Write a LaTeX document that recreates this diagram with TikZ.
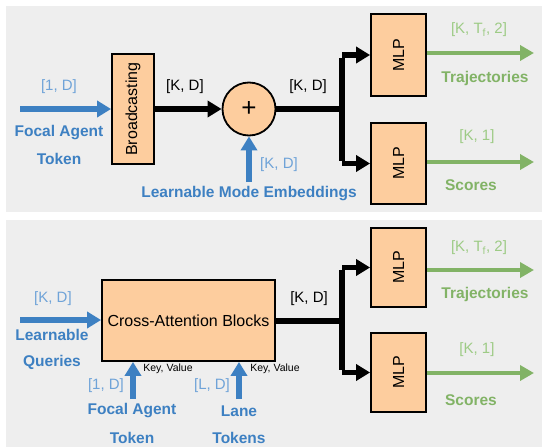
\documentclass[tikz,border=0pt]{standalone}
\usepackage{fontspec}
\setmainfont{Liberation Sans}
\usetikzlibrary{arrows.meta,positioning}
\definecolor{bg}{HTML}{EEEEEE}
\definecolor{peach}{HTML}{FDCD9E}
\definecolor{bluA}{HTML}{3D80C2}
\definecolor{bluL}{HTML}{6FA3D8}
\definecolor{grnA}{HTML}{82B366}
\definecolor{grnL}{HTML}{9DCB85}
\tikzset{
  boxy/.style={draw=black,line width=1.8pt,fill=peach,inner sep=0pt},
  blarrow/.style={draw=bluA,line width=5.5pt,-{Triangle[length=14pt,width=16pt]}},
  blkarrow/.style={draw=black,line width=5.5pt,-{Triangle[length=14pt,width=16pt]}},
  blkline/.style={draw=black,line width=5.5pt},
  grarrow/.style={draw=grnA,line width=4.5pt,-{Triangle[length=14pt,width=15pt]}},
  dimb/.style={text=bluL,font=\fontsize{15}{17}\selectfont},
  dimk/.style={text=black,font=\fontsize{15}{17}\selectfont},
  dimg/.style={text=grnL,font=\fontsize{15}{17}\selectfont},
  labb/.style={text=bluA,font=\bfseries\fontsize{15.5}{17}\selectfont},
  labg/.style={text=grnA,font=\bfseries\fontsize{15.5}{17}\selectfont},
  kv/.style={text=black,font=\fontsize{10.5}{12}\selectfont},
  boxtxt/.style={text=black,font=\fontsize{16}{18}\selectfont},
}
\begin{document}
\begin{tikzpicture}[x=1pt,y=-1pt]
\useasboundingbox (0,0) rectangle (543,447);
\fill[white] (0,0) rectangle (543,447);
\fill[bg] (6,6) rectangle (542,212);
\fill[bg] (6,220) rectangle (542,447);
% ---------- top panel ----------
\node[boxy,minimum width=42pt,minimum height=110pt] (bc) at (133,109) {};
\node[rotate=90,boxtxt] (bct) at (bc.center) {Broadcasting};
\coordinate (fin) at (20,109);
\draw[blarrow] (fin) -- (bc.west);
\node[dimb] (d1) at (59,87) {[1, D]};
\node[labb] (fa1) at (59,133) {Focal Agent};
\node[labb] (tk1) at (59,159) {Token};
\node[circle,draw=black,line width=1.8pt,fill=peach,minimum size=53pt,inner sep=0pt,font=\fontsize{26}{26}\selectfont] (plus) at (249,109) {+};
\draw[blkarrow] (bc.east) -- (plus.west);
\node[dimk] (d2) at (185,87) {[K, D]};
\coordinate (lme) at (249,182);
\draw[blarrow] (lme) -- (plus.south);
\node[dimb] (d3) at (279,165) {[K, D]};
\node[labb] (lm) at (249,194) {Learnable Mode Embeddings};
\coordinate (j1) at (342,109);
\node[boxy,minimum width=55pt,minimum height=82pt] (m1) at (398.5,55) {};
\node[rotate=90,boxtxt] (m1t) at (m1.center) {MLP};
\node[boxy,minimum width=55pt,minimum height=81pt] (m2) at (398.5,163.5) {};
\node[rotate=90,boxtxt] (m2t) at (m2.center) {MLP};
\draw[blkline] (plus.east) -- (j1);
\node[dimk] (d4) at (308,87) {[K, D]};
\draw[blkline] ([yshift=-2.75pt]j1 |- m1.west) -- ([yshift=2.75pt]j1 |- m2.west);
\draw[blkarrow] (j1 |- m1.west) -- (m1.west);
\draw[blkarrow] (j1 |- m2.west) -- (m2.west);
\coordinate (o1) at (534,53);
\coordinate (o2) at (534,162);
\draw[grarrow] (m1.east |- o1) -- (o1);
\draw[grarrow] (m2.east |- o2) -- (o2);
\node[dimg] (g1) at (479,30) {[K, T\textsubscript{f}, 2]};
\node[labg] (tr1) at (485,78) {Trajectories};
\node[dimg] (g2) at (477,137) {[K, 1]};
\node[labg] (sc1) at (471,185) {Scores};
% ---------- bottom panel ----------
\node[boxy,minimum width=173pt,minimum height=81pt] (ca) at (188.5,320.5) {};
\node[boxtxt] (cat) at (ca.center) {Cross-Attention Blocks};
\coordinate (qin) at (20,320);
\draw[blarrow] (qin) -- (qin -| ca.west);
\node[dimb] (d5) at (53,299) {[K, D]};
\node[labb] (lq) at (52,335) {Learnable};
\node[labb] (qq) at (52,362) {Queries};
\coordinate (fa2) at (133,399);
\coordinate (ln2) at (239,399);
\draw[blarrow] (fa2) -- (fa2 |- ca.south);
\draw[blarrow] (ln2) -- (ln2 |- ca.south);
\node[kv] (kv1) at (168,369) {Key, Value};
\node[kv] (kv2) at (275,369) {Key, Value};
\node[dimb] (d6) at (106,386) {[1, D]};
\node[dimb] (d7) at (212,386) {[L, D]};
\node[labb] (fat) at (132,411) {Focal Agent};
\node[labb] (tkt) at (132,438) {Token};
\node[labb] (lnt) at (239,411) {Lane};
\node[labb] (tkt2) at (239,438) {Tokens};
\coordinate (j2) at (342,321);
\node[boxy,minimum width=55pt,minimum height=79pt] (m3) at (398.5,267.5) {};
\node[rotate=90,boxtxt] (m3t) at (m3.center) {MLP};
\node[boxy,minimum width=55pt,minimum height=79pt] (m4) at (398.5,372.5) {};
\node[rotate=90,boxtxt] (m4t) at (m4.center) {MLP};
\draw[blkline] (ca.east |- j2) -- (j2);
\node[dimk] (d8) at (309,299) {[K, D]};
\draw[blkline] ([yshift=-2.75pt]j2 |- m3.west) -- ([yshift=2.75pt]j2 |- m4.west);
\draw[blkarrow] (j2 |- m3.west) -- (m3.west);
\draw[blkarrow] (j2 |- m4.west) -- (m4.west);
\coordinate (o3) at (534,270);
\coordinate (o4) at (534,373);
\draw[grarrow] (m3.east |- o3) -- (o3);
\draw[grarrow] (m4.east |- o4) -- (o4);
\node[dimg] (g3) at (479,248) {[K, T\textsubscript{f}, 2]};
\node[labg] (tr2) at (485,294) {Trajectories};
\node[dimg] (g4) at (477,350) {[K, 1]};
\node[labg] (sc2) at (471,400) {Scores};
\end{tikzpicture}
\end{document}
